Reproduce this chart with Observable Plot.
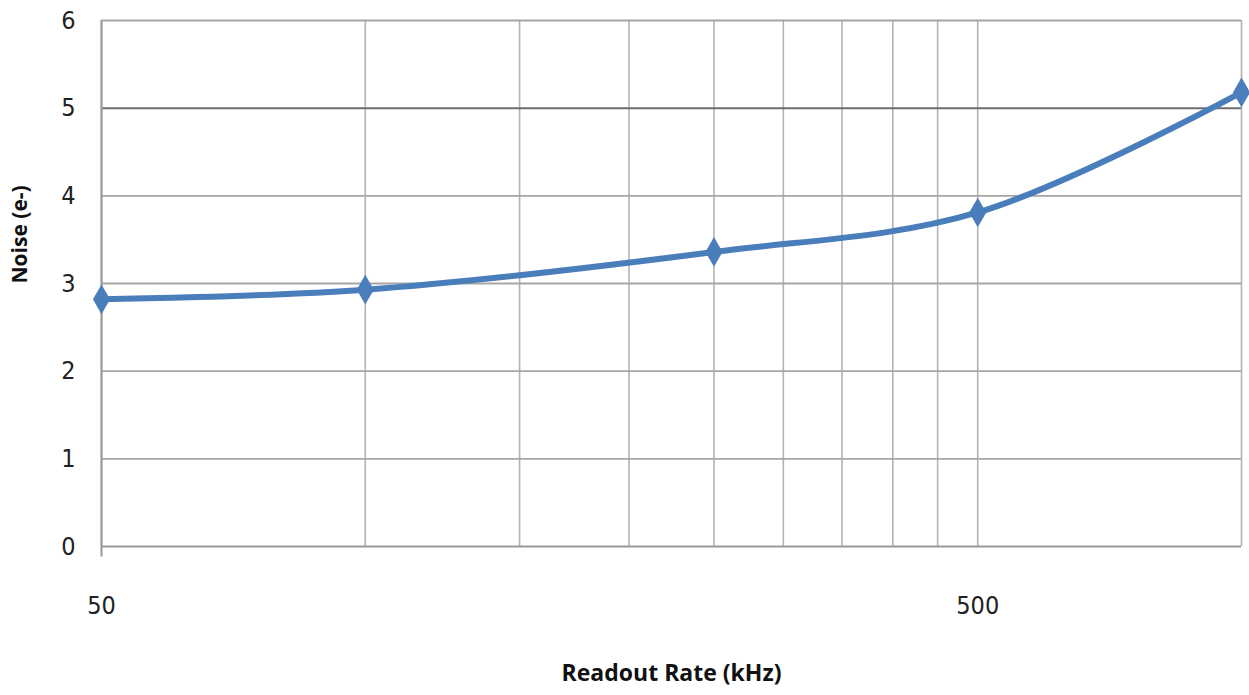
<!DOCTYPE html>
<html>
<head>
<meta charset="utf-8">
<script src="https://cdn.jsdelivr.net/npm/d3@7"></script>
<script src="https://cdn.jsdelivr.net/npm/@observablehq/plot@0.6"></script>
<style>
  html, body { margin: 0; padding: 0; background: #fff; }
</style>
</head>
<body>
<div id="chart"></div>
<script>
const rates = [50, 100, 250, 500, 1000];
const noise = [2.82, 2.93, 3.36, 3.81, 5.18];
const xGridTicks = [50, 100, 150, 200, 250, 300, 350, 400, 450, 500, 1000];
const xLabelTicks = [50, 500];
const yTicks = [0, 1, 2, 3, 4, 5, 6];
const yGridLight = [1, 2, 3, 4, 6];
const yGridDark = [5];

const data = rates.map((r, i) => ({rate: r, noise: noise[i]}));
const blue = "#4a7ebb";
const font = '"DejaVu Sans Condensed", "Open Sans", sans-serif';

const chart = Plot.plot({
  width: 1249,
  height: 695,
  marginLeft: 101,
  marginRight: 8,
  marginTop: 20,
  marginBottom: 149,
  style: {fontFamily: '"Open Sans", sans-serif', background: "#fff"},
  x: {type: "log", domain: [50, 1000]},
  y: {domain: [0, 6]},
  marks: [
    Plot.ruleX(xGridTicks, {stroke: "#b3b3b3", strokeWidth: 1.6, y1: 0, y2: 6}),
    Plot.ruleY(yGridLight, {stroke: "#a6a6a6", strokeWidth: 1.8}),
    Plot.ruleY(yGridDark, {stroke: "#6e6e6e", strokeWidth: 2}),
    Plot.ruleY([0], {stroke: "#9a9a9a", strokeWidth: 2}),
    Plot.ruleX([50], {stroke: "#9a9a9a", strokeWidth: 2, y1: -0.12, y2: 6}),
    Plot.axisY(yTicks, {tickSize: 0, tickPadding: 26, fontSize: 25, fontFamily: font, color: "#222", label: null, tickFormat: d => String(d)}),
    Plot.axisX(xLabelTicks, {tickSize: 0, tickPadding: 50, fontSize: 25, fontFamily: font, color: "#222", label: null, tickFormat: d => String(d)}),
    Plot.line(data, {x: "rate", y: "noise", curve: "catmull-rom", stroke: blue, strokeWidth: 6}),
    Plot.dot(data, {x: "rate", y: "noise", symbol: "diamond", r: 9, fill: blue, stroke: null}),
    Plot.text(["Readout Rate (kHz)"], {frameAnchor: "bottom", dy: 134, fontSize: 23, fontWeight: "bold", fill: "#111", text: d => d}),
    Plot.text(["Noise (e-)"], {frameAnchor: "left", dx: -81, rotate: -90, fontSize: 21, fontWeight: "bold", fill: "#111", text: d => d})
  ]
});
document.getElementById("chart").appendChild(chart);
</script>
</body>
</html>
